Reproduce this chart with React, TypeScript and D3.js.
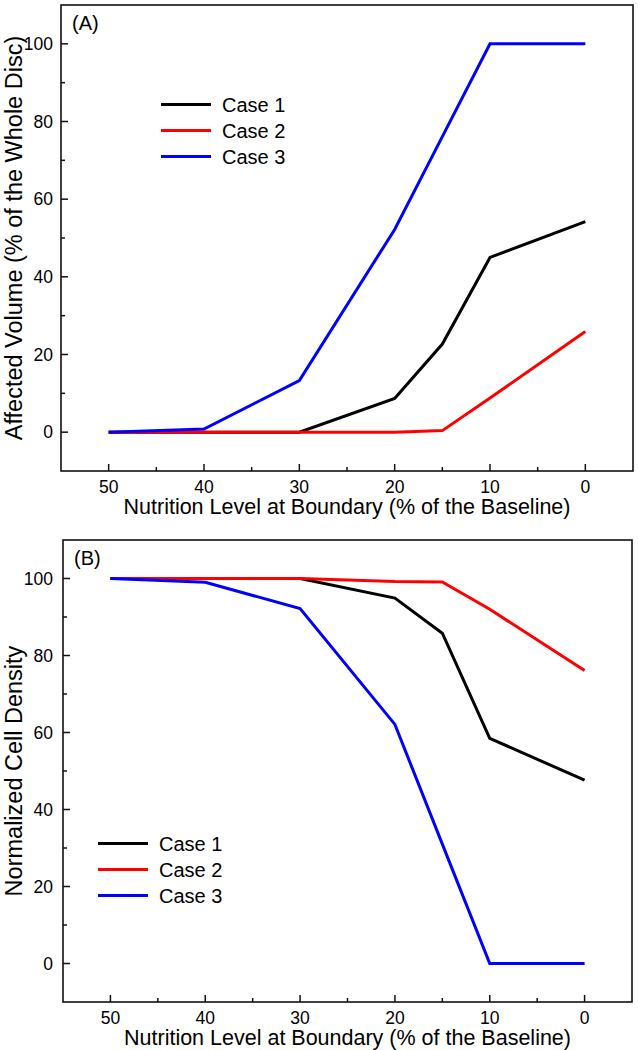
import React from "react";
import * as d3 from "d3";

const xLevels = [50, 40, 30, 20, 15, 10, 0];
const affectedCase1 = [0, 0, 0, 8.7, 22.7, 45, 54.2];
const affectedCase2 = [0, 0, 0, 0, 0.4, 8.8, 25.9];
const affectedCase3 = [0, 0.8, 13.3, 52.2, 76.1, 100, 100];
const densityCase1 = [100, 100, 100, 94.9, 85.8, 58.5, 47.6];
const densityCase2 = [100, 100, 100, 99.2, 99.1, 92, 76.1];
const densityCase3 = [100, 99, 92.2, 62.1, 31, 0, 0];
const seriesNames = ["Case 1", "Case 2", "Case 3"];
const seriesColors = ["#000000", "#ff0000", "#0000ff"];
const xMajorTicks = [50, 40, 30, 20, 10, 0];
const xMinorTicks = [45, 35, 25, 15, 5];
const yMajorTicks = [0, 20, 40, 60, 80, 100];
const yMinorTicks = [10, 30, 50, 70, 90];

const FONT = "'Liberation Sans', Arial, sans-serif";

type PanelProps = {
  left: number;
  right: number;
  top: number;
  bottom: number;
  label: string;
  yTitle: string;
  series: number[][];
  legendX: number;
  legendY: number;
};

function Panel(p: PanelProps) {
  const x = d3.scaleLinear().domain([55, -5]).range([p.left, p.right]);
  const y = d3.scaleLinear().domain([-10, 110]).range([p.bottom, p.top]);
  const line = d3
    .line<number>()
    .x((_, i) => x(xLevels[i]))
    .y((d) => y(d));
  const cy = (p.top + p.bottom) / 2;
  return (
    <g fontFamily={FONT} fill="#000">
      {p.series.map((s, i) => (
        <path
          key={i}
          d={line(s) || ""}
          fill="none"
          stroke={seriesColors[i]}
          strokeWidth={3}
        />
      ))}
      <rect
        x={p.left}
        y={p.top}
        width={p.right - p.left}
        height={p.bottom - p.top}
        fill="none"
        stroke="#111"
        strokeWidth={1.6}
      />
      {xMajorTicks.map((t) => (
        <g key={"xm" + t}>
          <line x1={x(t)} x2={x(t)} y1={p.bottom} y2={p.bottom - 7} stroke="#111" strokeWidth={1.5} />
          <text x={x(t)} y={p.bottom + 22} textAnchor="middle" fontSize={17.5}>
            {t}
          </text>
        </g>
      ))}
      {xMinorTicks.map((t) => (
        <line key={"xn" + t} x1={x(t)} x2={x(t)} y1={p.bottom} y2={p.bottom - 4} stroke="#111" strokeWidth={1.5} />
      ))}
      {yMajorTicks.map((t) => (
        <g key={"ym" + t}>
          <line x1={p.left} x2={p.left + 7} y1={y(t)} y2={y(t)} stroke="#111" strokeWidth={1.5} />
          <text x={53} y={y(t)} dy="0.36em" textAnchor="end" fontSize={17.5}>
            {t}
          </text>
        </g>
      ))}
      {yMinorTicks.map((t) => (
        <line key={"yn" + t} x1={p.left} x2={p.left + 4} y1={y(t)} y2={y(t)} stroke="#111" strokeWidth={1.5} />
      ))}
      <text x={(p.left + p.right) / 2} y={p.bottom + 43} textAnchor="middle" fontSize={21.5}>
        Nutrition Level at Boundary (% of the Baseline)
      </text>
      <text
        transform={`translate(22,${cy}) rotate(-90)`}
        textAnchor="middle"
        fontSize={23.5}
      >
        {p.yTitle}
      </text>
      <text x={p.left + 11} y={p.top + 25} fontSize={20}>
        {p.label}
      </text>
      {seriesNames.map((n, i) => (
        <g key={n}>
          <line
            x1={p.legendX}
            x2={p.legendX + 50}
            y1={p.legendY + i * 26}
            y2={p.legendY + i * 26}
            stroke={seriesColors[i]}
            strokeWidth={3}
          />
          <text x={p.legendX + 61} y={p.legendY + i * 26} dy="0.36em" fontSize={20}>
            {n}
          </text>
        </g>
      ))}
    </g>
  );
}

export default function App() {
  return (
    <svg
      width={638}
      height={1050}
      style={{ position: "absolute", left: 0, top: 0, background: "#fff" }}
    >
      <rect width={638} height={1050} fill="#fff" />
      <Panel
        left={61}
        right={633}
        top={5}
        bottom={471}
        label="(A)"
        yTitle="Affected Volume (% of the Whole Disc)"
        series={[affectedCase1, affectedCase2, affectedCase3]}
        legendX={161}
        legendY={104.5}
      />
      <Panel
        left={63}
        right={632}
        top={540}
        bottom={1002}
        label="(B)"
        yTitle="Normalized Cell Density"
        series={[densityCase1, densityCase2, densityCase3]}
        legendX={98}
        legendY={843.5}
      />
    </svg>
  );
}
